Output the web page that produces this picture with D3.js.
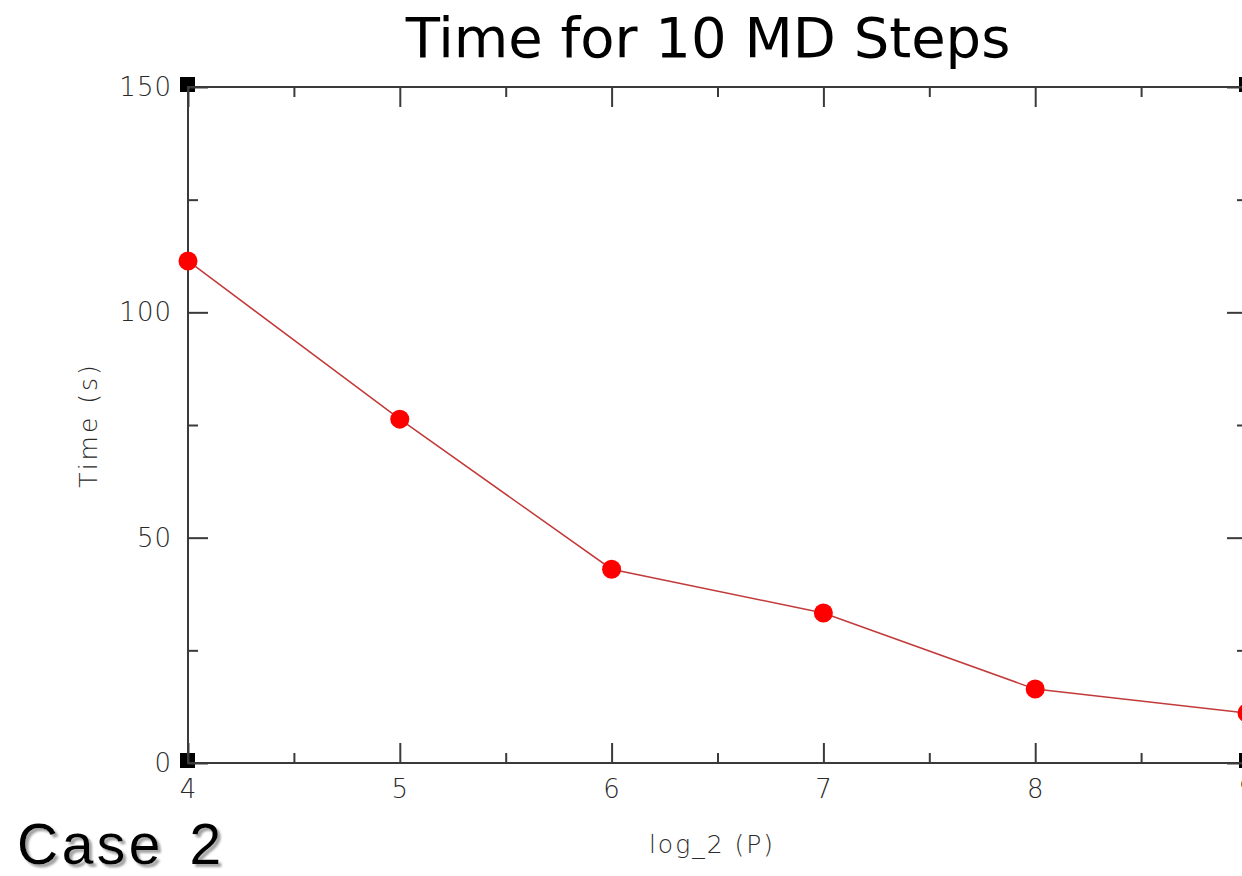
<!DOCTYPE html>
<html>
<head>
<meta charset="utf-8">
<script src="https://cdn.jsdelivr.net/npm/d3@7"></script>
<style>
  html, body { margin: 0; padding: 0; background: #fff; }
  svg { display: block; }
</style>
</head>
<body>
<svg id="chart" width="1242" height="876"></svg>
<script>
// log_2 of processor count vs wall time for 10 MD steps
const procLog2 = [4, 5, 6, 7, 8, 9];
const timeSec = [111.4, 76.3, 43.0, 33.3, 16.4, 11.1];
const yLabelTicks = [0, 50, 100, 150];
const xLabelTicks = [4, 5, 6, 7, 8, 9];

const X0 = 188, X1 = 1247, Y0 = 763, Y1 = 87;

const svg = d3.select("#chart");
const x = d3.scaleLinear([4, 9], [X0, X1]);
const y = d3.scaleLinear([0, 150], [Y0, Y1]);

const axisColor = "#3a3a3a";
const labelFont = "'DejaVu Sans', sans-serif";

// drop shadow for the slide caption
const defs = svg.append("defs");
defs.append("filter").attr("id", "shadow")
  .attr("x", "-5%").attr("y", "-5%").attr("width", "115%").attr("height", "120%")
  .append("feDropShadow")
  .attr("dx", 3).attr("dy", 3).attr("stdDeviation", 0.8)
  .attr("flood-color", "#999").attr("flood-opacity", 0.9);

// corner squares
[X0, X1].forEach(cx => {
  [150, 0].forEach(v => {
    svg.append("rect")
      .attr("x", cx - 8).attr("y", y(v) - 10)
      .attr("width", 15).attr("height", 15)
      .attr("fill", "#000");
  });
});

const g = svg.append("g");

// frame
g.append("rect")
  .attr("x", X0).attr("y", Y1)
  .attr("width", X1 - X0).attr("height", Y0 - Y1)
  .attr("fill", "none").attr("stroke", axisColor).attr("stroke-width", 2);

// x ticks, inward on bottom and top
const xMajor = d3.range(4, 9.01, 1), xMinor = d3.range(4.5, 9, 1);
const noDomain = a => a.select(".domain").remove();
g.append("g").attr("transform", `translate(0,${Y0})`)
  .call(d3.axisTop(x).tickValues(xMajor).tickSize(20).tickFormat("")).call(noDomain);
g.append("g").attr("transform", `translate(0,${Y0})`)
  .call(d3.axisTop(x).tickValues(xMinor).tickSize(10).tickFormat("")).call(noDomain);
g.append("g").attr("transform", `translate(0,${Y1})`)
  .call(d3.axisBottom(x).tickValues(xMajor).tickSize(20).tickFormat("")).call(noDomain);
g.append("g").attr("transform", `translate(0,${Y1})`)
  .call(d3.axisBottom(x).tickValues(xMinor).tickSize(10).tickFormat("")).call(noDomain);

// y ticks, inward on left and right
const yMajor = [0, 50, 100, 150], yMinor = [25, 75, 125];
g.append("g").attr("transform", `translate(${X0},0)`)
  .call(d3.axisRight(y).tickValues(yMajor).tickSize(20).tickFormat("")).call(noDomain);
g.append("g").attr("transform", `translate(${X0},0)`)
  .call(d3.axisRight(y).tickValues(yMinor).tickSize(10).tickFormat("")).call(noDomain);
g.append("g").attr("transform", `translate(${X1},0)`)
  .call(d3.axisLeft(y).tickValues(yMajor).tickSize(20).tickFormat("")).call(noDomain);
g.append("g").attr("transform", `translate(${X1},0)`)
  .call(d3.axisLeft(y).tickValues(yMinor).tickSize(10).tickFormat("")).call(noDomain);

g.selectAll(".tick line").attr("stroke", axisColor).attr("stroke-width", 2);

// tick labels
svg.append("g").selectAll("text")
  .data(yLabelTicks).join("text")
  .attr("x", X0 - 16).attr("y", d => y(d) + 9)
  .attr("text-anchor", "end")
  .attr("font-family", labelFont).attr("font-weight", 200).attr("font-size", 26)
  .attr("letter-spacing", 1)
  .attr("fill", "#2a2a2a")
  .text(d => d);

svg.append("g").selectAll("text")
  .data(xLabelTicks).join("text")
  .attr("x", d => x(d)).attr("y", Y0 + 35)
  .attr("text-anchor", "middle")
  .attr("font-family", labelFont).attr("font-weight", 200).attr("font-size", 26)
  .attr("fill", "#2a2a2a")
  .text(d => d);

// axis titles
svg.append("text")
  .attr("x", 712).attr("y", 853)
  .attr("text-anchor", "middle")
  .attr("font-family", labelFont).attr("font-weight", 200).attr("font-size", 25)
  .attr("letter-spacing", 2)
  .attr("fill", "#2a2a2a")
  .text("log_2 (P)");

svg.append("text")
  .attr("transform", "translate(97,425) rotate(-90)")
  .attr("text-anchor", "middle")
  .attr("font-family", labelFont).attr("font-weight", 200).attr("font-size", 25)
  .attr("letter-spacing", 3)
  .attr("fill", "#2a2a2a")
  .text("Time (s)");

// title
svg.append("text")
  .attr("x", 708).attr("y", 57)
  .attr("text-anchor", "middle")
  .attr("font-family", "'DejaVu Sans', Verdana, sans-serif").attr("font-size", 56)
  .attr("fill", "#000")
  .text("Time for 10 MD Steps");

// data line + markers
const line = d3.line().x((d, i) => x(procLog2[i])).y(d => y(d));
svg.append("path")
  .attr("d", line(timeSec))
  .attr("fill", "none").attr("stroke", "#c23a3a").attr("stroke-width", 1.5);

svg.append("g").selectAll("circle")
  .data(timeSec).join("circle")
  .attr("cx", (d, i) => x(procLog2[i])).attr("cy", d => y(d))
  .attr("r", 9.5)
  .attr("fill", "#ff0000");

// "Case 2" slide caption
svg.append("text")
  .attr("x", 17).attr("y", 864)
  .attr("font-family", "'Liberation Sans', Arial, sans-serif").attr("font-size", 57)
  .attr("letter-spacing", 3.5).attr("word-spacing", 6)
  .attr("fill", "#000")
  .attr("filter", "url(#shadow)")
  .text("Case 2");
</script>
</body>
</html>
